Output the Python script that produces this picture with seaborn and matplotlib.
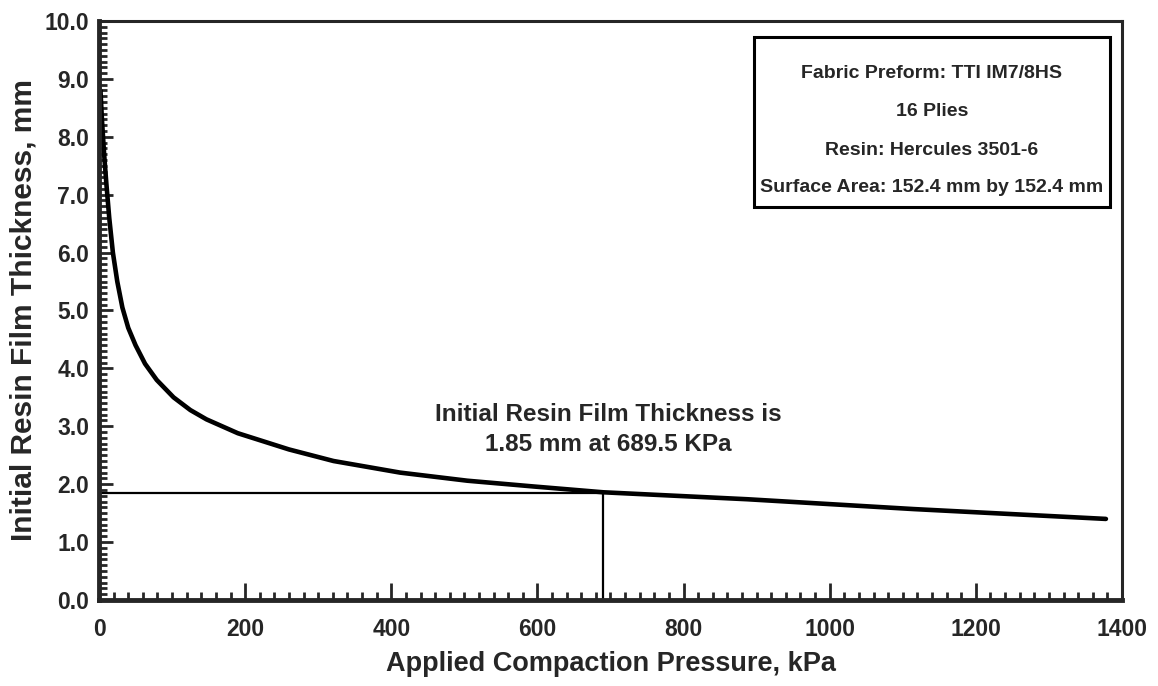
import matplotlib
matplotlib.use("Agg")
import matplotlib.pyplot as plt
import matplotlib.patches as mpatches
from matplotlib.ticker import MultipleLocator, FormatStrFormatter
import seaborn as sns
import pandas as pd

# Compaction curve: applied pressure (kPa) vs. initial resin film thickness (mm)
pressure_kpa = [2, 4, 7, 10, 14, 19, 25, 32, 40, 50, 63, 79, 102, 125, 147,
                190, 260, 321, 412, 504, 595, 690, 887, 1115, 1378]
thickness_mm = [8.8, 8.3, 7.7, 7.2, 6.6, 6.0, 5.5, 5.05, 4.70, 4.40, 4.08,
                3.80, 3.50, 3.28, 3.12, 2.88, 2.60, 2.40, 2.20, 2.06, 1.96,
                1.86, 1.74, 1.57, 1.40]

# Reference operating point
ref_pressure = 689.5
ref_thickness = 1.85

info_lines = ["Fabric Preform: TTI IM7/8HS",
              "16 Plies",
              "Resin: Hercules 3501-6",
              "Surface Area: 152.4 mm by 152.4 mm"]

sns.set_style("ticks")
plt.rcParams["font.family"] = ["Liberation Sans", "DejaVu Sans"]
plt.rcParams["font.weight"] = "bold"

df = pd.DataFrame({"pressure": pressure_kpa, "thickness": thickness_mm})

fig = plt.figure(figsize=(11.58, 6.86), dpi=100)
ax = fig.add_axes([0.0855, 0.1254, 0.8834, 0.844])

sns.lineplot(data=df, x="pressure", y="thickness", ax=ax, color="black",
             linewidth=3.3, sort=True)

# Guide lines to the reference point
ax.plot([0, ref_pressure], [ref_thickness, ref_thickness], color="black", lw=1.6)
ax.plot([ref_pressure, ref_pressure], [0, ref_thickness], color="black", lw=1.6)

ax.set_xlim(0, 1400)
ax.set_ylim(0, 10)
ax.xaxis.set_major_locator(MultipleLocator(200))
ax.xaxis.set_minor_locator(MultipleLocator(20))
ax.yaxis.set_major_locator(MultipleLocator(1.0))
ax.yaxis.set_minor_locator(MultipleLocator(0.1))
ax.yaxis.set_major_formatter(FormatStrFormatter("%.1f"))

ax.tick_params(axis="both", which="major", direction="in", width=2,
               labelsize=16.5)
ax.tick_params(axis="x", which="major", length=12, pad=13)
ax.tick_params(axis="y", which="major", length=10, pad=7)
ax.tick_params(axis="both", which="minor", direction="in", width=2, length=5.5)
for lbl in ax.get_xticklabels() + ax.get_yticklabels():
    lbl.set_fontweight("bold")

for side in ["left", "bottom"]:
    ax.spines[side].set_linewidth(3.5)
for side in ["top", "right"]:
    ax.spines[side].set_linewidth(2.2)

ax.set_xlabel("Applied Compaction Pressure, kPa", fontsize=19.5,
              fontweight="bold", labelpad=7)
ax.set_ylabel("Initial Resin Film Thickness, mm", fontsize=21.5,
              fontweight="bold", labelpad=5)

# Specimen description box
box = mpatches.Rectangle((0.640, 0.679), 0.348, 0.293, transform=ax.transAxes,
                         fill=False, edgecolor="black", linewidth=2.2)
ax.add_patch(box)
for y, line in zip([0.910, 0.843, 0.777, 0.712], info_lines):
    ax.text(0.814, y, line, transform=ax.transAxes, ha="center", va="center",
            fontsize=14, fontweight="bold")

ax.text(697, 2.94,
        "Initial Resin Film Thickness is\n%.2f mm at %.1f KPa" % (ref_thickness, ref_pressure),
        ha="center", va="center", fontsize=17.5, fontweight="bold",
        linespacing=1.4)

fig.savefig("out.png", dpi=100)
